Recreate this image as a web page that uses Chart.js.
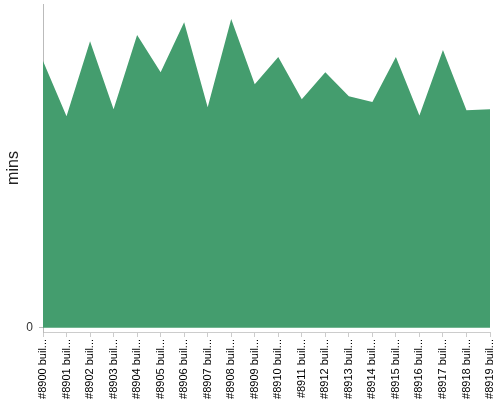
<!DOCTYPE html>
<html>
<head>
<meta charset="utf-8">
<script src="https://cdn.jsdelivr.net/npm/chart.js@4/dist/chart.umd.min.js"></script>
<style>
html,body{margin:0;padding:0;background:#fff;}
#wrap{width:500px;height:400px;}
</style>
</head>
<body>
<div id="wrap"><canvas id="c" width="500" height="400"></canvas></div>
<script>
const builds = ["#8900 build","#8901 build","#8902 build","#8903 build","#8904 build","#8905 build","#8906 build","#8907 build","#8908 build","#8909 build","#8910 build","#8911 build","#8912 build","#8913 build","#8914 build","#8915 build","#8916 build","#8917 build","#8918 build","#8919 build"];
const durationMins = [8.24,6.53,8.85,6.75,9.04,7.89,9.44,6.81,9.54,7.52,8.36,7.06,7.89,7.15,6.97,8.36,6.56,8.58,6.72,6.75];
const yTicks = [0];
const yTitle = "mins";

new Chart(document.getElementById('c'), {
  type: 'line',
  data: {
    labels: builds,
    datasets: [{
      data: durationMins,
      fill: 'origin',
      backgroundColor: '#449d6e',
      borderWidth: 0,
      pointRadius: 0,
      tension: 0
    }]
  },
  options: {
    responsive: false,
    animation: false,
    layout: {padding: {top: 4, right: 10, left: 4, bottom: 0}},
    plugins: {legend: {display: false}, tooltip: {enabled: false}},
    scales: {
      x: {
        offset: false,
        border: {display: true, color: '#cccccc'},
        grid: {display: true, drawOnChartArea: false, tickLength: 5, color: '#cccccc'},
        ticks: {
          autoSkip: false, maxRotation: 90, minRotation: 90, padding: 2,
          color: '#000', font: {family: 'Liberation Sans, Arial', size: 11},
          callback: function(v){ const s = this.getLabelForValue(v); return s.length > 10 ? s.slice(0,10) + '...' : s; }
        },
        afterFit: s => { s.height = 68; s.paddingRight = 0; s.paddingLeft = 0; }
      },
      y: {
        min: -0.13, max: 10,
        border: {display: true, color: '#bbbbbb'},
        grid: {display: true, drawOnChartArea: false, tickLength: 4, color: '#bbbbbb'},
        afterBuildTicks: s => { s.ticks = yTicks.map(v => ({value: v})); },
        ticks: {color: '#333', padding: 6, font: {family: 'Liberation Sans, Arial', size: 12}},
        title: {display: true, text: yTitle, color: '#222', padding: {top: 0, bottom: 4}, font: {family: 'Liberation Sans, Arial', size: 16}},
        afterFit: s => { s.width = 39; s.paddingTop = 0; s.paddingBottom = 0; }
      }
    }
  }
});
</script>
</body>
</html>
